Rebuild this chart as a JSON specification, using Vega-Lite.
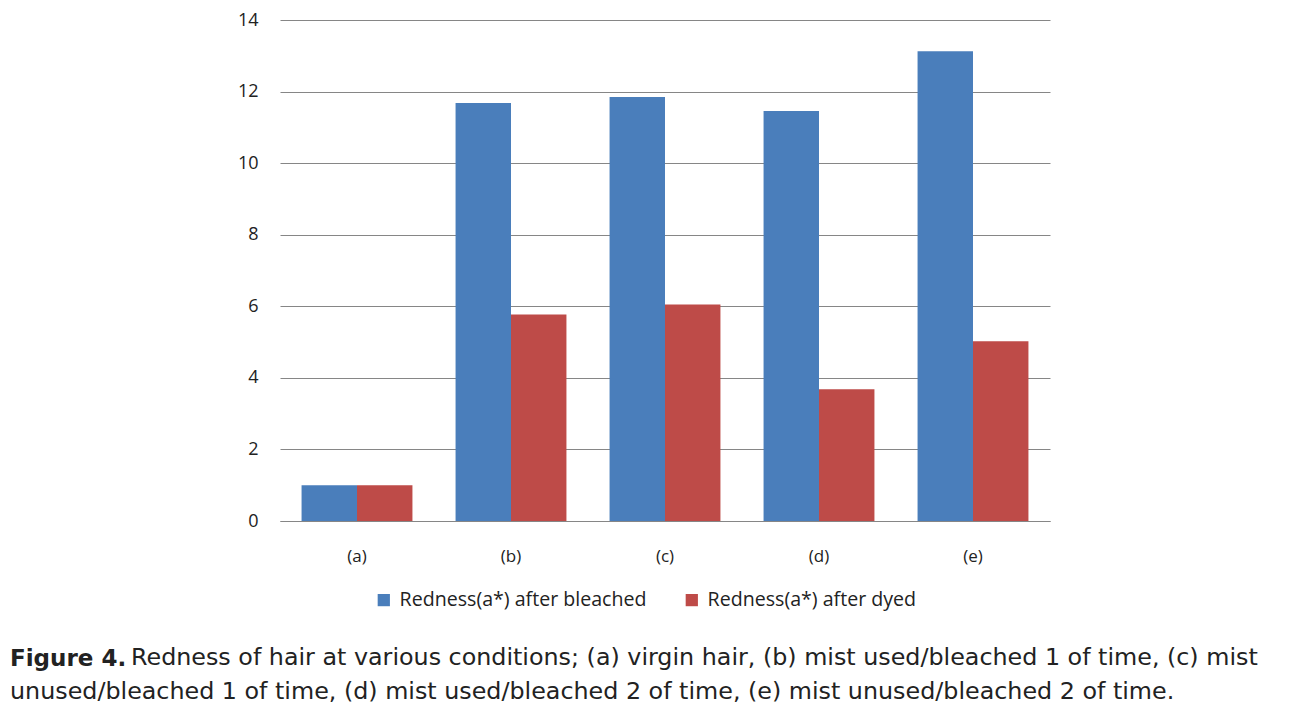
{
  "$schema": "https://vega.github.io/schema/vega-lite/v6.json",
  "width": 770,
  "height": 501,
  "autosize": {"type": "none"},
  "padding": {"left": 280, "top": 20, "right": 251, "bottom": 188},
  "background": "white",
  "data": {
    "values": [
      {"cond": "(a)", "series": "Redness(a*) after bleached", "value": 1.0},
      {"cond": "(a)", "series": "Redness(a*) after dyed", "value": 1.0},
      {"cond": "(b)", "series": "Redness(a*) after bleached", "value": 11.68},
      {"cond": "(b)", "series": "Redness(a*) after dyed", "value": 5.77},
      {"cond": "(c)", "series": "Redness(a*) after bleached", "value": 11.85},
      {"cond": "(c)", "series": "Redness(a*) after dyed", "value": 6.05},
      {"cond": "(d)", "series": "Redness(a*) after bleached", "value": 11.46},
      {"cond": "(d)", "series": "Redness(a*) after dyed", "value": 3.68},
      {"cond": "(e)", "series": "Redness(a*) after bleached", "value": 13.13},
      {"cond": "(e)", "series": "Redness(a*) after dyed", "value": 5.02}
    ]
  },
  "title": {
    "text": "Figure 4.",
    "subtitle": ["\u200b\u00a0\u00a0\u00a0\u00a0\u00a0\u00a0\u00a0\u00a0\u00a0\u00a0\u00a0\u00a0\u00a0\u00a0\u00a0\u00a0Redness of hair at various conditions; (a) virgin hair, (b) mist used/bleached 1 of time, (c) mist", "unused/bleached 1 of time, (d) mist used/bleached 2 of time, (e) mist unused/bleached 2 of time."],
    "orient": "bottom",
    "anchor": "start",
    "frame": "group",
    "dx": -270,
    "offset": 38,
    "font": "DejaVu Sans",
    "fontSize": 23,
    "fontWeight": "bold",
    "color": "#222222",
    "subtitleFont": "DejaVu Sans",
    "subtitleFontSize": 23.8,
    "subtitleColor": "#222222",
    "subtitleLineHeight": 34,
    "subtitlePadding": -25,
    "baseline": "top"
  },
  "mark": {"type": "bar"},
  "encoding": {
    "x": {
      "field": "cond",
      "type": "nominal",
      "scale": {"paddingInner": 0.28, "paddingOuter": 0.14},
      "axis": {
        "title": null,
        "labelAngle": 0,
        "ticks": false,
        "domainColor": "#868686",
        "domainWidth": 1,
        "labelPadding": 27,
        "labelFont": "Open Sans",
        "labelFontSize": 17,
        "labelColor": "#222222",
        "grid": false
      }
    },
    "xOffset": {"field": "series", "type": "nominal"},
    "y": {
      "field": "value",
      "type": "quantitative",
      "scale": {"domain": [0, 14]},
      "axis": {
        "title": null,
        "values": [0, 2, 4, 6, 8, 10, 12, 14],
        "domain": false,
        "ticks": false,
        "gridColor": "#868686",
        "gridWidth": 1,
        "labelPadding": 22,
        "labelFont": "Open Sans",
        "labelFontSize": 18,
        "labelColor": "#222222"
      }
    },
    "color": {
      "field": "series",
      "type": "nominal",
      "scale": {"range": ["#4a7ebb", "#be4b48"]},
      "legend": {
        "title": null,
        "orient": "none",
        "direction": "horizontal",
        "legendX": 94,
        "legendY": 570,
        "symbolType": "square",
        "symbolSize": 150,
        "symbolStrokeWidth": 0,
        "labelFont": "Open Sans",
        "labelFontSize": 19.6,
        "labelLimit": 400,
        "labelColor": "#222222",
        "columnPadding": 35,
        "labelOffset": 6
      }
    }
  },
  "config": {"view": {"stroke": null}}
}
